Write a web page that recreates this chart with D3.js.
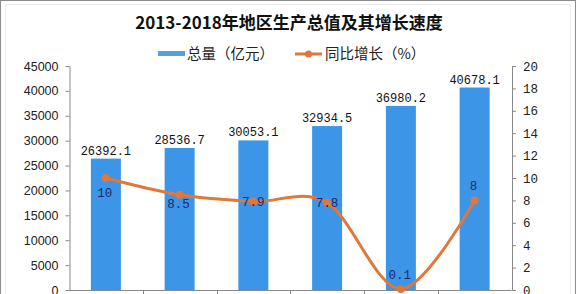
<!DOCTYPE html>
<html>
<head>
<meta charset="utf-8">
<script src="https://cdn.jsdelivr.net/npm/d3@7"></script>
<style>
  body { margin: 0; background: #fff; }
  svg { display: block; }
</style>
</head>
<body>
<div id="chart"></div>
<script>
// chart data
const years = ["2013", "2014", "2015", "2016", "2017", "2018"];
const totals = [26392.1, 28536.7, 30053.1, 32934.5, 36980.2, 40678.1];
const growth = [10, 8.5, 7.9, 7.8, 0.1, 8];
const growthLabelPos = ["below", "below", "mid", "mid", "above", "above"];
const leftTicks = [0, 5000, 10000, 15000, 20000, 25000, 30000, 35000, 40000, 45000];
const rightTicks = [0, 2, 4, 6, 8, 10, 12, 14, 16, 18, 20];

const width = 576, height = 294;
const margin = { top: 66, right: 64.5, bottom: 4, left: 69 };
const barColor = "#3c95e6";
const lineColor = "#e0773b";
const labelFont = "'Liberation Mono', 'DejaVu Sans Mono', monospace";
const cjkFont = "'Noto Sans CJK SC', sans-serif";

const svg = d3.select("#chart")
  .append("svg")
  .attr("width", width)
  .attr("height", height);

// frame
svg.append("rect")
  .attr("x", 0.5).attr("y", 0.5)
  .attr("width", width - 1).attr("height", height + 10)
  .attr("fill", "none").attr("stroke", "#8c8c8c");
svg.append("rect")
  .attr("x", 5.5).attr("y", 4.5)
  .attr("width", width - 11).attr("height", height + 10)
  .attr("fill", "none").attr("stroke", "#ececec");

const x = d3.scaleBand()
  .domain(years)
  .range([margin.left, width - margin.right])
  .paddingInner(0)
  .paddingOuter(0);

const yLeft = d3.scaleLinear()
  .domain([0, 45000])
  .range([height - margin.bottom, margin.top]);

const yRight = d3.scaleLinear()
  .domain([0, 20])
  .range([height - margin.bottom, margin.top]);

const barW = 30;

// title
svg.append("text")
  .attr("x", 289)
  .attr("y", 29)
  .attr("text-anchor", "middle")
  .attr("font-family", cjkFont)
  .attr("font-weight", "bold")
  .attr("font-size", "17px")
  .attr("fill", "#111")
  .text("2013-2018年地区生产总值及其增长速度");

// legend
const legend = svg.append("g").attr("font-family", cjkFont).attr("font-size", "14.5px").attr("fill", "#222");
legend.append("rect")
  .attr("x", 158).attr("y", 51)
  .attr("width", 27).attr("height", 5)
  .attr("fill", "#5a9fe0");
legend.append("text")
  .attr("x", 187).attr("y", 59)
  .text("总量（亿元）");
legend.append("line")
  .attr("x1", 295).attr("x2", 322)
  .attr("y1", 54).attr("y2", 54)
  .attr("stroke", lineColor).attr("stroke-width", 3);
legend.append("circle")
  .attr("cx", 308.5).attr("cy", 54).attr("r", 3.5)
  .attr("fill", lineColor);
legend.append("text")
  .attr("x", 325).attr("y", 59)
  .text("同比增长（%）");

// bars
svg.selectAll("rect.bar")
  .data(totals)
  .enter()
  .append("rect")
  .attr("class", "bar")
  .attr("x", (d, i) => x(years[i]) + x.bandwidth() / 2 - barW / 2)
  .attr("y", (d) => yLeft(d))
  .attr("width", barW)
  .attr("height", (d) => yLeft(0) - yLeft(d))
  .attr("fill", barColor);

svg.selectAll("text.barlabel")
  .data(totals)
  .enter()
  .append("text")
  .attr("class", "barlabel")
  .attr("x", (d, i) => x(years[i]) + x.bandwidth() / 2)
  .attr("y", (d) => yLeft(d) - 4)
  .attr("text-anchor", "middle")
  .attr("font-family", labelFont)
  .attr("font-size", "12px")
  .attr("fill", "#111")
  .text((d) => d3.format(".1f")(d));

// axes
const xAxis = svg.append("g")
  .attr("transform", `translate(0, ${height - margin.bottom})`);
xAxis.append("line")
  .attr("x1", margin.left).attr("x2", width - margin.right)
  .attr("y1", 0.5).attr("y2", 0.5)
  .attr("stroke", "#888");
xAxis.selectAll("line.tick")
  .data(years.slice(1))
  .enter()
  .append("line")
  .attr("class", "tick")
  .attr("x1", (d) => Math.round(x(d)) + 0.5)
  .attr("x2", (d) => Math.round(x(d)) + 0.5)
  .attr("y1", 0).attr("y2", 5)
  .attr("stroke", "#888");

const leftAxis = svg.append("g")
  .attr("transform", `translate(${margin.left + 0.5}, 0)`)
  .call(d3.axisLeft(yLeft).tickValues(leftTicks).tickFormat(d3.format("d"))
    .tickSize(4).tickPadding(7).tickSizeOuter(0));
leftAxis.selectAll("text")
  .attr("font-family", "'Liberation Sans', Arial, sans-serif")
  .attr("font-size", "12.5px")
  .attr("fill", "#222");

const rightAxis = svg.append("g")
  .attr("transform", `translate(${width - margin.right + 0.5}, 0)`)
  .call(d3.axisRight(yRight).tickValues(rightTicks).tickFormat(d3.format("d"))
    .tickSize(4).tickPadding(7).tickSizeOuter(0));
rightAxis.selectAll("text")
  .attr("font-family", labelFont)
  .attr("font-size", "12.5px")
  .attr("fill", "#222");

svg.selectAll(".domain, .tick line").attr("stroke", "#888");

// growth line
const cx = (i) => x(years[i]) + x.bandwidth() / 2;
const line = d3.line()
  .x((d, i) => cx(i))
  .y((d) => yRight(d))
  .curve(d3.curveCatmullRom.alpha(0));

svg.append("path")
  .datum(growth)
  .attr("d", line)
  .attr("fill", "none")
  .attr("stroke", lineColor)
  .attr("stroke-width", 3);

svg.selectAll("circle.dot")
  .data(growth)
  .enter()
  .append("circle")
  .attr("class", "dot")
  .attr("cx", (d, i) => cx(i))
  .attr("cy", (d) => yRight(d))
  .attr("r", 4)
  .attr("fill", lineColor);

const labelDy = { below: 19, mid: 4, above: -10 };
svg.selectAll("text.growthlabel")
  .data(growth)
  .enter()
  .append("text")
  .attr("class", "growthlabel")
  .attr("x", (d, i) => cx(i) - (growthLabelPos[i] === "mid" ? 0 : 1))
  .attr("y", (d, i) => yRight(d) + labelDy[growthLabelPos[i]] - (i === 1 ? 6 : 0))
  .attr("text-anchor", "middle")
  .attr("font-family", labelFont)
  .attr("font-size", "12.5px")
  .attr("fill", "#1d2a66")
  .text((d) => d);
</script>
</body>
</html>
